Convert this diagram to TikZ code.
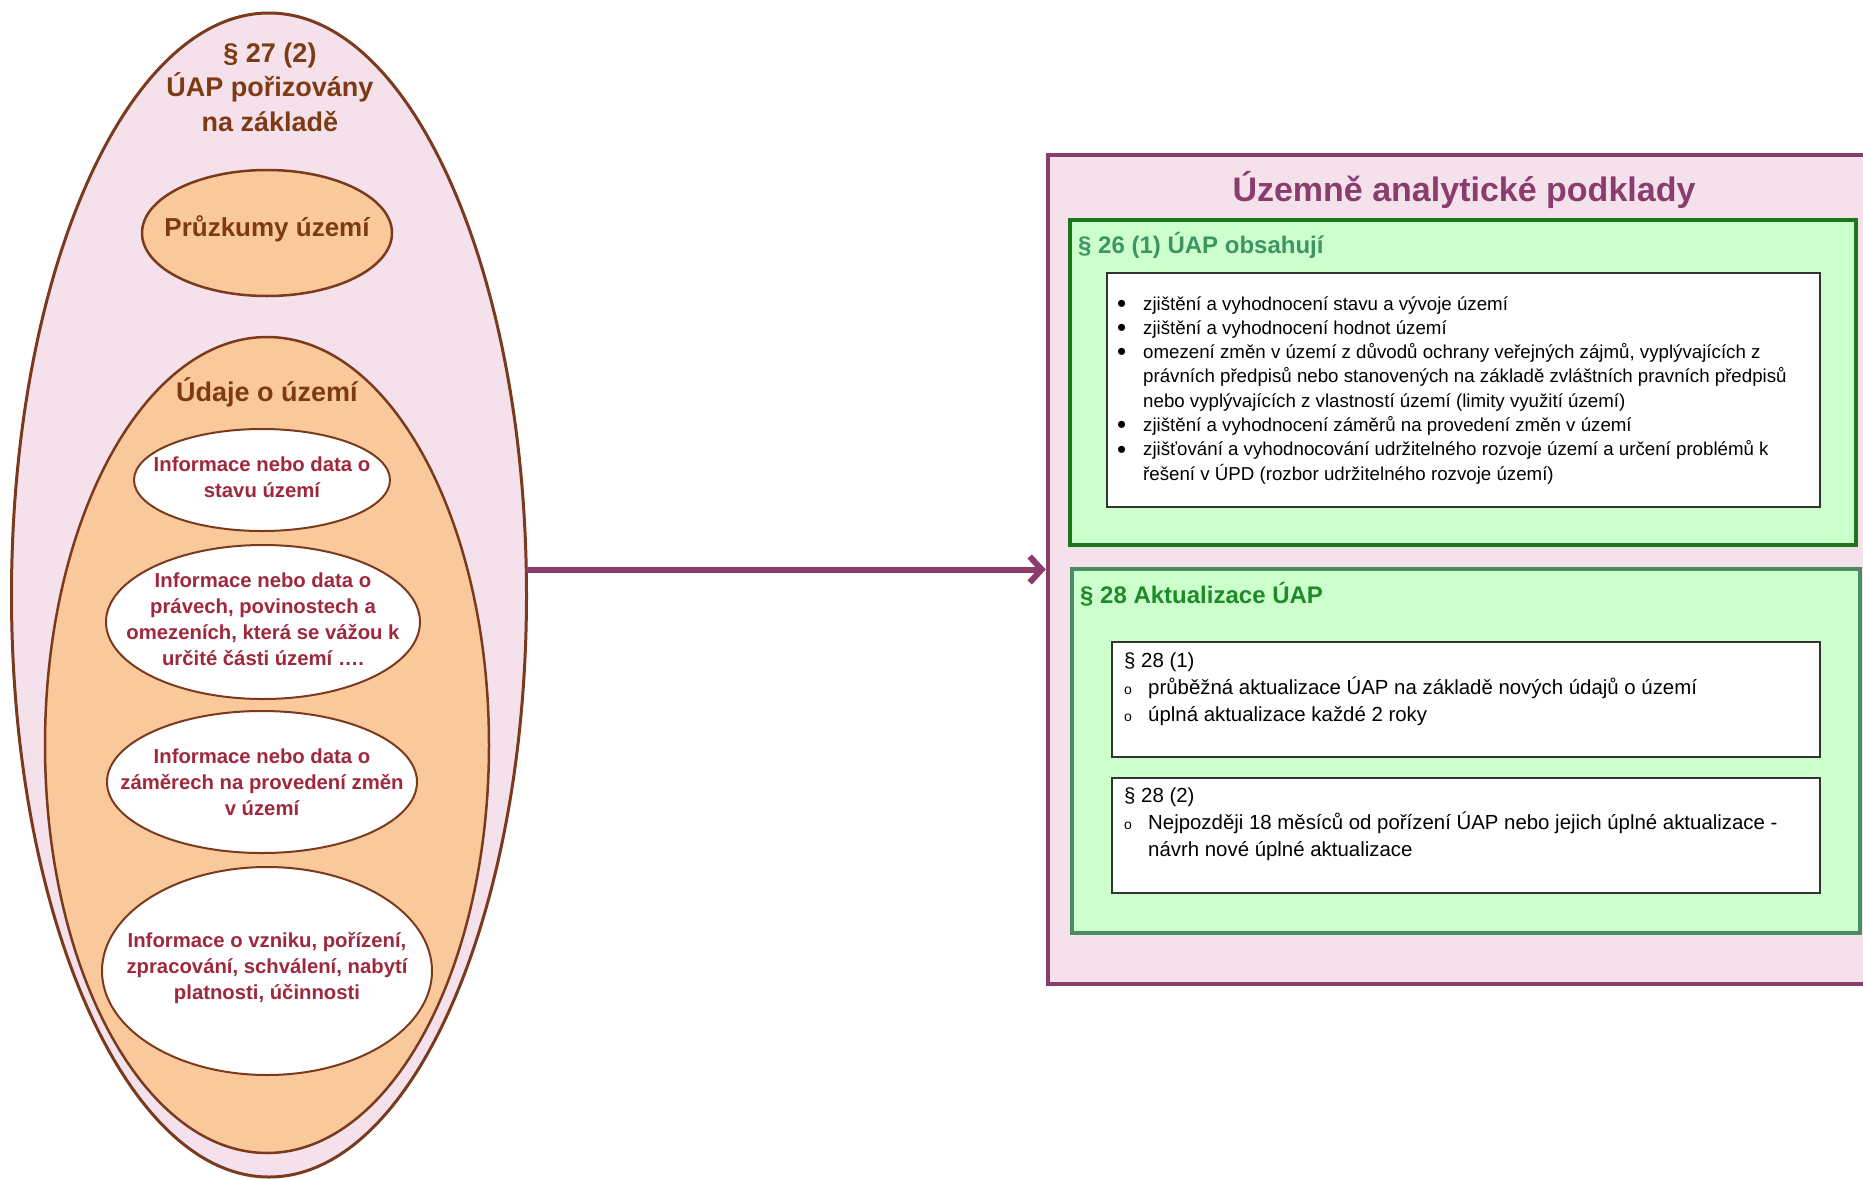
\documentclass[tikz,border=0pt]{standalone}
\usepackage{fontspec}
\setmainfont{Liberation Sans}
\usetikzlibrary{shapes.geometric,arrows.meta}
\definecolor{brownline}{HTML}{7B3A1E}
\definecolor{pinkfill}{HTML}{F4E1EC}
\definecolor{peach}{HTML}{FAC99B}
\definecolor{browntext}{HTML}{7E3A12}
\definecolor{redtext}{HTML}{A0283C}
\definecolor{plum}{HTML}{8A3D6C}
\definecolor{greenfill}{HTML}{CCFFCC}
\definecolor{darkgreen}{HTML}{1C761C}
\definecolor{midgreen}{HTML}{4A8C68}
\definecolor{tealtext}{HTML}{3F9464}
\definecolor{greentext}{HTML}{1E8A28}
\definecolor{boxline}{HTML}{333333}
\newcommand{\bul}{\makebox[26pt][l]{\raisebox{-2.2pt}{\fontsize{26}{26}\selectfont\textbullet}}}
\newcommand{\circmark}{\makebox[24pt][l]{\fontsize{14}{14}\selectfont o}}
\begin{document}
\begin{tikzpicture}[x=1pt,y=-1pt,
  oval/.style={ellipse, draw=brownline, inner sep=0pt},
  whiteoval/.style={oval, fill=white, line width=2pt},
  redlabel/.style={text=redtext, align=center, inner sep=0pt, font=\bfseries\fontsize{20.3}{26}\selectfont},
  brownlabel/.style={text=browntext, align=center, inner sep=0pt, font=\bfseries\fontsize{27}{34.5}\selectfont},
  greenbox/.style={fill=greenfill, line width=4.5pt, minimum width=787pt, inner sep=0pt},
  whitebox/.style={draw=boxline, fill=white, line width=1.5pt, minimum width=708pt, inner sep=0pt},
  sectitle/.style={anchor=base west, inner sep=0pt, font=\bfseries\fontsize{24}{28}\selectfont},
  bodytext/.style={anchor=base west, inner sep=0pt, align=left}
]
\useasboundingbox (0,0) rectangle (1863,1178);
\clip (0,0) rectangle (1863,1178);
\fill[white] (0,0) rectangle (1863,1178);

% left side
\node[oval, fill=pinkfill, line width=3pt, minimum width=515pt, minimum height=1164pt] (outer) at (269,595) {};
\node[brownlabel] (t27) at (270,87) {§ 27 (2)\\ÚAP pořizovány\\na základě};
\node[oval, fill=peach, line width=2.5pt, minimum width=250pt, minimum height=126pt] (pruz) at (267,233) {};
\node[brownlabel, font=\bfseries\fontsize{26}{32}\selectfont] (pruzt) at (267,229) {Průzkumy území};
\node[oval, fill=peach, line width=2.5pt, minimum width=444pt, minimum height=816pt] (udaje) at (267,745) {};
\node[brownlabel] (udajet) at (267,392) {Údaje o území};

\node[whiteoval, minimum width=256pt, minimum height=102pt] (w1) at (262,480) {};
\node[redlabel] (w1t) at (262,477) {Informace nebo data o\\stavu území};
\node[whiteoval, minimum width=314pt, minimum height=154pt] (w2) at (263,622) {};
\node[redlabel] (w2t) at (263,619) {Informace nebo data o\\právech, povinostech a\\omezeních, která se vážou k\\určité části území ….};
\node[whiteoval, minimum width=310pt, minimum height=142pt] (w3) at (262,782) {};
\node[redlabel] (w3t) at (262,782) {Informace nebo data o\\záměrech na provedení změn\\v území};
\node[whiteoval, minimum width=330pt, minimum height=208pt] (w4) at (267,971) {};
\node[redlabel] (w4t) at (267,968) {Informace o vzniku, pořízení,\\zpracování, schválení, nabytí\\platnosti, účinnosti};

% right side
\node[draw=plum, fill=pinkfill, line width=4.5pt, minimum width=832pt, minimum height=829pt, inner sep=0pt] (uap) at (1464,569.5) {};
\node[text=plum, inner sep=0pt, font=\bfseries\fontsize{34}{40}\selectfont] (title) at (1464,190) {Územně analytické podklady};

\node[greenbox, draw=darkgreen, minimum width=786pt, minimum height=325pt] (g1) at (1463,382.5) {};
\node[sectitle, text=tealtext] (g1t) at (1078,253) {§ 26 (1) ÚAP obsahují};
\node[whitebox, minimum width=713pt, minimum height=234pt] (wb1) at (1463.5,390) {};
\node[bodytext, font=\fontsize{18.7}{24.3}\selectfont] (list1) at (1117,310) {\begin{tabular}[t]{@{}l@{}l@{}}
\bul & zjištění a vyhodnocení stavu a vývoje území\\
\bul & zjištění a vyhodnocení hodnot území\\
\bul & omezení změn v území z důvodů ochrany veřejných zájmů, vyplývajících z\\
 & právních předpisů nebo stanovených na základě zvláštních pravních předpisů\\
 & nebo vyplývajících z vlastností území (limity využití území)\\
\bul & zjištění a vyhodnocení záměrů na provedení změn v území\\
\bul & zjišťování a vyhodnocování udržitelného rozvoje území a určení problémů k\\
 & řešení v ÚPD (rozbor udržitelného rozvoje území)
\end{tabular}};

\node[greenbox, draw=midgreen, minimum width=788pt, minimum height=364pt] (g2) at (1466,751) {};
\node[sectitle, text=greentext] (g2t) at (1080,603) {§ 28 Aktualizace ÚAP};
\node[whitebox, minimum height=115pt] (wb2a) at (1466,699.5) {};
\node[bodytext, font=\fontsize{20.4}{27}\selectfont] (list2a) at (1124,667) {\begin{tabular}[t]{@{}l@{}l@{}}
\multicolumn{2}{@{}l@{}}{§ 28 (1)}\\
\circmark & průběžná aktualizace ÚAP na základě nových údajů o území\\
\circmark & úplná aktualizace každé 2 roky
\end{tabular}};
\node[whitebox, minimum height=115pt] (wb2b) at (1466,835.5) {};
\node[bodytext, font=\fontsize{20.4}{27}\selectfont] (list2b) at (1124,802) {\begin{tabular}[t]{@{}l@{}l@{}}
\multicolumn{2}{@{}l@{}}{§ 28 (2)}\\
\circmark & Nejpozději 18 měsíců od pořízení ÚAP nebo jejich úplné aktualizace -\\
 & návrh nové úplné aktualizace
\end{tabular}};

% connector
\draw[plum, line width=6pt, line cap=round, -{Straight Barb[length=12pt, width=26pt]}] (outer.east |- uap.west) -- (uap.west);
\end{tikzpicture}
\end{document}
